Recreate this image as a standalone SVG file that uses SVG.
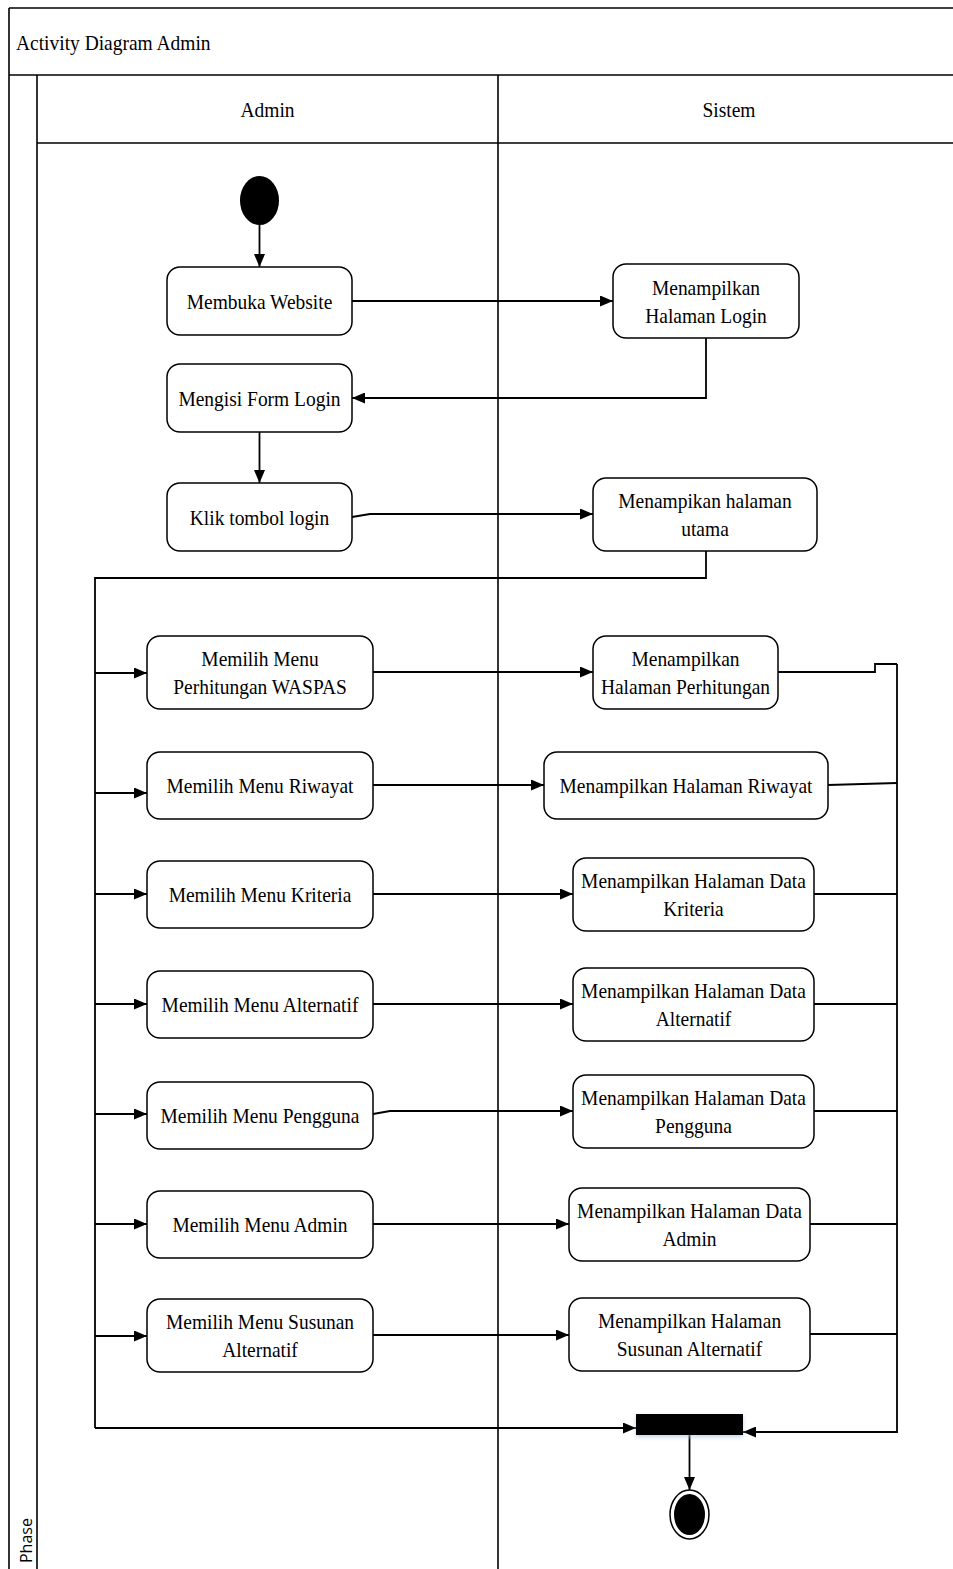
<svg xmlns="http://www.w3.org/2000/svg" width="953" height="1569" viewBox="0 0 953 1569">
<defs>
<style>
.frame{fill:none;stroke:#000;stroke-width:1.6}
.box{fill:#fff;stroke:#000;stroke-width:1.5}
.ln{fill:none;stroke:#000;stroke-width:1.8}
.arr{fill:none;stroke:#000;stroke-width:1.8;marker-end:url(#ah)}
.t{font-family:"Liberation Serif","Times New Roman",serif;font-size:22px;text-anchor:middle;fill:#000}
.ts{font-family:"Liberation Serif","Times New Roman",serif;font-size:22px;fill:#000}
.ph{font-family:"Open Sans","Noto Sans",sans-serif;font-size:16px;fill:#000}
</style>
<marker id="ah" viewBox="0 0 13 11" refX="13" refY="5.5" markerWidth="13" markerHeight="11" markerUnits="userSpaceOnUse" orient="auto">
<path d="M0,0 L13,5.5 L0,11 Z" fill="#000"/>
</marker>
<filter id="glow" x="-20%" y="-50%" width="140%" height="220%">
<feDropShadow dx="0" dy="2" stdDeviation="2" flood-color="#9fc3e8" flood-opacity="0.7"/>
</filter>
</defs>

<g id="frame">
<line class="frame" x1="9" y1="8" x2="953" y2="8"/>
<line class="frame" x1="9" y1="8" x2="9" y2="1569"/>
<line class="frame" x1="9" y1="75" x2="953" y2="75"/>
<line class="frame" x1="37" y1="75" x2="37" y2="1569"/>
<line class="frame" x1="37" y1="143" x2="953" y2="143"/>
<line class="frame" x1="498" y1="75" x2="498" y2="1569"/>
<text class="ts" transform="translate(16,50) scale(0.885,1)">Activity Diagram Admin</text>
<text class="t" transform="translate(267.5,117) scale(0.885,1)">Admin</text>
<text class="t" transform="translate(729,117) scale(0.885,1)">Sistem</text>
<text class="ph" transform="translate(32,1563) rotate(-90)">Phase</text>
</g>

<g id="connectors">
<line class="arr" x1="259.5" y1="225" x2="259.5" y2="267"/>
<line class="arr" x1="352" y1="301" x2="613" y2="301"/>
<polyline class="arr" points="706,338 706,398 352,398"/>
<line class="arr" x1="259.5" y1="432" x2="259.5" y2="483"/>
<polyline class="arr" points="352,517 370,514 593,514"/>
<polyline class="ln" points="706,551 706,578 95,578 95,1428"/>
<line class="arr" x1="95" y1="1428" x2="636" y2="1428"/>
<line class="arr" x1="95" y1="673" x2="147" y2="673"/>
<line class="arr" x1="95" y1="793" x2="147" y2="793"/>
<line class="arr" x1="95" y1="894" x2="147" y2="894"/>
<line class="arr" x1="95" y1="1004" x2="147" y2="1004"/>
<line class="arr" x1="95" y1="1114" x2="147" y2="1114"/>
<line class="arr" x1="95" y1="1224" x2="147" y2="1224"/>
<line class="arr" x1="95" y1="1336" x2="147" y2="1336"/>
<line class="arr" x1="373" y1="672" x2="593" y2="672"/>
<line class="arr" x1="373" y1="785" x2="544" y2="785"/>
<line class="arr" x1="373" y1="894" x2="573" y2="894"/>
<line class="arr" x1="373" y1="1004" x2="573" y2="1004"/>
<polyline class="arr" points="373,1114 390,1111 573,1111"/>
<line class="arr" x1="373" y1="1224" x2="569" y2="1224"/>
<line class="arr" x1="373" y1="1335" x2="569" y2="1335"/>
<polyline class="ln" points="778,672 875,672 875,664 897,664"/>
<line class="ln" x1="828" y1="785" x2="897" y2="783"/>
<line class="ln" x1="814" y1="894" x2="897" y2="894"/>
<line class="ln" x1="814" y1="1004" x2="897" y2="1004"/>
<line class="ln" x1="814" y1="1111" x2="897" y2="1111"/>
<line class="ln" x1="810" y1="1224" x2="897" y2="1224"/>
<line class="ln" x1="810" y1="1334" x2="897" y2="1334"/>
<polyline class="arr" points="897,664 897,1432 743,1432"/>
<line class="arr" x1="689.5" y1="1435" x2="689.5" y2="1490"/>
</g>

<g id="start">
<ellipse cx="259.5" cy="200.5" rx="19.5" ry="24.5" fill="#000"/>
</g>

<g id="n1">
<rect class="box" x="167" y="267" width="185" height="68" rx="13"/>
<text class="t" transform="translate(259.5,309) scale(0.885,1)">Membuka Website</text>
</g>
<g id="n2">
<rect class="box" x="613" y="264" width="186" height="74" rx="13"/>
<text class="t" transform="translate(706,295) scale(0.885,1)"><tspan x="0" y="0">Menampilkan</tspan><tspan x="0" y="28">Halaman Login</tspan></text>
</g>
<g id="n3">
<rect class="box" x="167" y="364" width="185" height="68" rx="13"/>
<text class="t" transform="translate(259.5,406) scale(0.885,1)">Mengisi Form Login</text>
</g>
<g id="n4">
<rect class="box" x="167" y="483" width="185" height="68" rx="13"/>
<text class="t" transform="translate(259.5,525) scale(0.885,1)">Klik tombol login</text>
</g>
<g id="n5">
<rect class="box" x="593" y="478" width="224" height="73" rx="13"/>
<text class="t" transform="translate(705,508) scale(0.885,1)"><tspan x="0" y="0">Menampikan halaman</tspan><tspan x="0" y="28">utama</tspan></text>
</g>
<g id="n6">
<rect class="box" x="147" y="636" width="226" height="73" rx="13"/>
<text class="t" transform="translate(260,666) scale(0.885,1)"><tspan x="0" y="0">Memilih Menu</tspan><tspan x="0" y="28">Perhitungan WASPAS</tspan></text>
</g>
<g id="n7">
<rect class="box" x="593" y="636" width="185" height="73" rx="13"/>
<text class="t" transform="translate(685.5,666) scale(0.885,1)"><tspan x="0" y="0">Menampilkan</tspan><tspan x="0" y="28">Halaman Perhitungan</tspan></text>
</g>
<g id="n8">
<rect class="box" x="147" y="752" width="226" height="67" rx="13"/>
<text class="t" transform="translate(260,793) scale(0.885,1)">Memilih Menu Riwayat</text>
</g>
<g id="n9">
<rect class="box" x="544" y="752" width="284" height="67" rx="13"/>
<text class="t" transform="translate(686,793) scale(0.885,1)">Menampilkan Halaman Riwayat</text>
</g>
<g id="n10">
<rect class="box" x="147" y="861" width="226" height="67" rx="13"/>
<text class="t" transform="translate(260,902) scale(0.885,1)">Memilih Menu Kriteria</text>
</g>
<g id="n11">
<rect class="box" x="573" y="858" width="241" height="73" rx="13"/>
<text class="t" transform="translate(693.5,888) scale(0.885,1)"><tspan x="0" y="0">Menampilkan Halaman Data</tspan><tspan x="0" y="28">Kriteria</tspan></text>
</g>
<g id="n12">
<rect class="box" x="147" y="971" width="226" height="67" rx="13"/>
<text class="t" transform="translate(260,1012) scale(0.885,1)">Memilih Menu Alternatif</text>
</g>
<g id="n13">
<rect class="box" x="573" y="968" width="241" height="73" rx="13"/>
<text class="t" transform="translate(693.5,998) scale(0.885,1)"><tspan x="0" y="0">Menampilkan Halaman Data</tspan><tspan x="0" y="28">Alternatif</tspan></text>
</g>
<g id="n14">
<rect class="box" x="147" y="1082" width="226" height="67" rx="13"/>
<text class="t" transform="translate(260,1123) scale(0.885,1)">Memilih Menu Pengguna</text>
</g>
<g id="n15">
<rect class="box" x="573" y="1075" width="241" height="73" rx="13"/>
<text class="t" transform="translate(693.5,1105) scale(0.885,1)"><tspan x="0" y="0">Menampilkan Halaman Data</tspan><tspan x="0" y="28">Pengguna</tspan></text>
</g>
<g id="n16">
<rect class="box" x="147" y="1191" width="226" height="67" rx="13"/>
<text class="t" transform="translate(260,1232) scale(0.885,1)">Memilih Menu Admin</text>
</g>
<g id="n17">
<rect class="box" x="569" y="1188" width="241" height="73" rx="13"/>
<text class="t" transform="translate(689.5,1218) scale(0.885,1)"><tspan x="0" y="0">Menampilkan Halaman Data</tspan><tspan x="0" y="28">Admin</tspan></text>
</g>
<g id="n18">
<rect class="box" x="147" y="1299" width="226" height="73" rx="13"/>
<text class="t" transform="translate(260,1329) scale(0.885,1)"><tspan x="0" y="0">Memilih Menu Susunan</tspan><tspan x="0" y="28">Alternatif</tspan></text>
</g>
<g id="n19">
<rect class="box" x="569" y="1298" width="241" height="73" rx="13"/>
<text class="t" transform="translate(689.5,1328) scale(0.885,1)"><tspan x="0" y="0">Menampilkan Halaman</tspan><tspan x="0" y="28">Susunan Alternatif</tspan></text>
</g>

<g id="join">
<rect x="636" y="1414" width="107" height="21" fill="#000" filter="url(#glow)"/>
</g>
<g id="end">
<ellipse cx="689.5" cy="1514.5" rx="19.5" ry="24.5" fill="#fff" stroke="#000" stroke-width="1.5"/>
<ellipse cx="689.5" cy="1514.5" rx="15.5" ry="20.5" fill="#000"/>
</g>
</svg>
